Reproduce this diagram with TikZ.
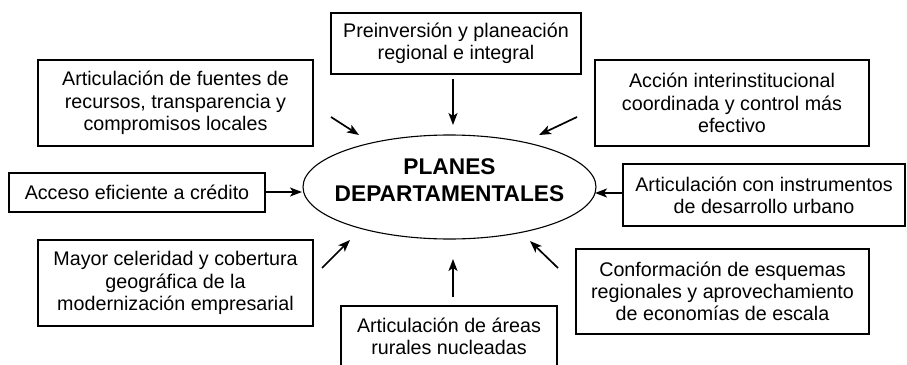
\documentclass[tikz,border=0pt]{standalone}
\usepackage{amsmath,amssymb}
\usepackage[svgnames]{xcolor}
\usepackage{fontspec}
\setmainfont{Liberation Sans}
\usepackage{tikz}
\usetikzlibrary{arrows.meta,shapes.geometric}

\tikzset{
    caja/.style={draw=black, line width=1.4pt, align=center, inner sep=0pt,
        font=\fontsize{19.7}{22.3}\selectfont},
    centro/.style={draw=black, ellipse, line width=1.1pt, inner sep=0pt,
        minimum width=293pt, minimum height=104pt},
    titulo/.style={align=center, inner sep=0pt,
        font=\bfseries\fontsize{22.7}{27}\selectfont},
    flecha/.style={line width=1.7pt, -{Stealth[length=12pt,width=9pt,inset=3pt]}}
}

\begin{document}
\begin{tikzpicture}[x=1pt,y=-1pt]

        \clip (0,0) rectangle (907,364);

        % centre
        \node[centro] (plan) at (449.5,187) {};
        \node[titulo] (plantxt) at (449.5,180) {PLANES\\DEPARTAMENTALES};

        % boxes
        \node[caja, minimum width=250pt, minimum height=61pt] (pre) at (456,43.5)
            {Preinversión y planeación\\regional e integral};
        \node[caja, minimum width=275pt, minimum height=86pt] (fuentes) at (175.5,103)
            {Articulación de fuentes de\\recursos, transparencia y\\compromisos locales};
        \node[caja, minimum width=274pt, minimum height=86pt] (accion) at (732,103)
            {Acción interinstitucional\\coordinada y control más\\efectivo};
        \node[caja, minimum width=256pt, minimum height=39pt] (credito) at (137,192.5)
            {Acceso eficiente a crédito};
        \node[caja, minimum width=282pt, minimum height=62pt] (urbano) at (764,195)
            {Articulación con instrumentos\\de desarrollo urbano};
        \node[caja, minimum width=275pt, minimum height=86pt] (celeridad) at (175.5,283)
            {Mayor celeridad y cobertura\\geográfica de la\\modernización empresarial};
        \node[caja, minimum width=293pt, minimum height=85pt] (escala) at (722.5,291.5)
            {Conformación de esquemas\\regionales y aprovechamiento\\de economías de escala};
        \node[caja, minimum width=216pt, minimum height=61pt] (rurales) at (449,336.5)
            {Articulación de áreas\\rurales nucleadas};

        % arrow ends
        \coordinate (preA) at (453,79);
        \coordinate (preB) at (453,125);
        \coordinate (fueA) at (331,117);
        \coordinate (fueB) at (359,135);
        \coordinate (accA) at (577,117);
        \coordinate (accB) at (539,135);
        \coordinate (creA) at (265,192);
        \coordinate (creB) at (302,192);
        \coordinate (urbA) at (623,193);
        \coordinate (urbB) at (595,193);
        \coordinate (celA) at (322,268);
        \coordinate (celB) at (350,240);
        \coordinate (escA) at (558,268);
        \coordinate (escB) at (530,241);
        \coordinate (rurA) at (453,297);
        \coordinate (rurB) at (453,259);

        \foreach \p in {pre,fue,acc,cre,urb,cel,esc,rur}
            \draw[flecha] (\p A) -- (\p B);

\end{tikzpicture}
\end{document}
